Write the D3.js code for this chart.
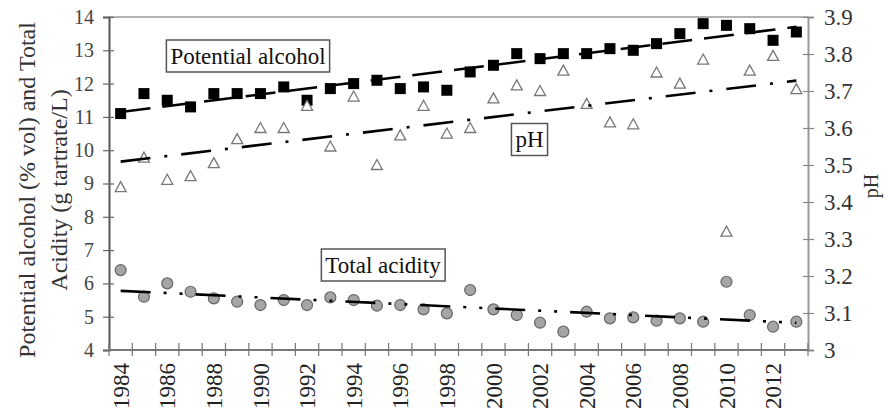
<!doctype html>
<html>
<head>
<meta charset="UTF-8">
<title>Alcohol, acidity and pH</title>
<script src="https://d3js.org/d3.v7.min.js"></script>
<style>
  body { margin: 0; background: #fff; }
  text { font-family: "Liberation Serif", "Times New Roman", serif; }
</style>
</head>
<body>
<script>
var years = d3.range(1984, 2014);
var alcohol = [11.1, 11.7, 11.5, 11.3, 11.7, 11.7, 11.7, 11.9, 11.5, 11.85,
               12.0, 12.1, 11.85, 11.9, 11.8, 12.35, 12.55, 12.9, 12.75, 12.9,
               12.9, 13.05, 13.0, 13.2, 13.5, 13.8, 13.75, 13.65, 13.3, 13.55];
var ph = [3.44, 3.52, 3.46, 3.47, 3.505, 3.57, 3.60, 3.60, 3.66, 3.55,
          3.685, 3.50, 3.58, 3.66, 3.585, 3.60, 3.68, 3.715, 3.70, 3.755,
          3.665, 3.615, 3.61, 3.75, 3.72, 3.785, 3.32, 3.755, 3.795, 3.705];
var acidity = [6.4, 5.6, 6.0, 5.75, 5.55, 5.45, 5.35, 5.5, 5.35, 5.58,
               5.5, 5.33, 5.35, 5.22, 5.1, 5.8, 5.22, 5.05, 4.82, 4.55,
               5.15, 4.95, 4.98, 4.88, 4.95, 4.85, 6.05, 5.05, 4.7, 4.85];
var leftTicks = d3.range(4, 15);
var rightTicks = [3, 3.1, 3.2, 3.3, 3.4, 3.5, 3.6, 3.7, 3.8, 3.9];
var yearLabels = years.filter(function(y){ return y % 2 == 0; });

var W = 888, H = 413;
var pLeft = 109, pRight = 808, pTop = 17, pBottom = 350;

var svg = d3.select("body").append("svg").attr("width", W).attr("height", H);

var x = d3.scaleBand().domain(years).range([pLeft, pRight]);
var yL = d3.scaleLinear().domain([4, 14]).range([pBottom, pTop]);
var yR = d3.scaleLinear().domain([3, 3.9]).range([pBottom, pTop]);
function cx(d, i){ return x(years[i]) + x.bandwidth() / 2; }

// frame
svg.append("line").attr("x1", pLeft).attr("x2", pRight).attr("y1", pTop).attr("y2", pTop)
   .attr("stroke", "#999").attr("stroke-width", 1.5);

// left axis
var gl = svg.append("g").attr("transform", "translate(" + pLeft + ",0)")
   .call(d3.axisLeft(yL).tickValues(leftTicks).tickSize(6).tickPadding(9));
gl.selectAll("line").attr("x1", 5).attr("stroke", "#666").attr("stroke-width", 1.2);
gl.select(".domain").attr("stroke", "#555").attr("stroke-width", 2);
gl.selectAll("text").attr("font-family", "Liberation Sans, Arial, sans-serif")
   .attr("font-size", 20).attr("fill", "#444");

// right axis
var gr = svg.append("g").attr("transform", "translate(" + pRight + ",0)")
   .call(d3.axisRight(yR).tickValues(rightTicks).tickSize(6).tickPadding(10)
   .tickFormat(function(d){ return String(+d.toFixed(1)); }));
gr.selectAll("line").attr("x1", -5).attr("stroke", "#888").attr("stroke-width", 1.2);
gr.select(".domain").attr("stroke", "#999").attr("stroke-width", 2);
gr.selectAll("text").attr("font-family", "Liberation Serif, Times New Roman, serif")
   .attr("font-size", 23).attr("fill", "#333");

// bottom axis: ticks on band edges, labels on band centres
svg.append("line").attr("x1", pLeft).attr("x2", pRight).attr("y1", pBottom).attr("y2", pBottom)
   .attr("stroke", "#777").attr("stroke-width", 2);
svg.append("g").selectAll("line").data(years.concat([2014])).enter().append("line")
   .attr("x1", function(d){ return d == 2014 ? pRight : x(d); })
   .attr("x2", function(d){ return d == 2014 ? pRight : x(d); })
   .attr("y1", pBottom - 7).attr("y2", pBottom + 6)
   .attr("stroke", "#777").attr("stroke-width", 1.2);
svg.append("g").selectAll("text").data(yearLabels).enter().append("text")
   .attr("transform", function(d){
       return "translate(" + (x(d) + x.bandwidth() / 2) + "," + (pBottom + 13) + ") rotate(-90)";
   })
   .attr("text-anchor", "end").attr("dy", "0.35em")
   .attr("font-size", 23).attr("fill", "#222")
   .text(function(d){ return d; });

// axis titles
var yt = svg.append("text").attr("transform", "translate(27,190) rotate(-90)")
   .attr("text-anchor", "middle").attr("font-size", 24).attr("fill", "#333");
yt.append("tspan").attr("x", 0).attr("dy", "0.35em").text("Potential alcohol (% vol) and Total");
yt.append("tspan").attr("x", 0).attr("dy", 32).text("Acidity (g tartrate/L)");
svg.append("text").attr("transform", "translate(871,186) rotate(-90)")
   .attr("text-anchor", "middle").attr("dy", "0.35em")
   .attr("font-size", 20).attr("fill", "#333").text("pH");

// trend lines (least squares on year index)
function fit(vals){
    var n = vals.length, mx = (n - 1) / 2, my = d3.mean(vals), sxy = 0, sxx = 0;
    vals.forEach(function(v, i){ sxy += (i - mx) * (v - my); sxx += (i - mx) * (i - mx); });
    var b = sxy / sxx;
    return [my - b * mx, my + b * (n - 1 - mx)];
}
function trend(vals, scale, dash){
    var f = fit(vals);
    svg.append("line")
       .attr("x1", cx(null, 0)).attr("x2", cx(null, vals.length - 1))
       .attr("y1", scale(f[0])).attr("y2", scale(f[1]))
       .attr("stroke", "#000").attr("stroke-width", 2.6)
       .attr("stroke-dasharray", dash);
}

// markers
svg.append("g").selectAll("rect").data(alcohol).enter().append("rect")
   .attr("x", function(d, i){ return cx(d, i) - 5.5; })
   .attr("y", function(d){ return yL(d) - 5.5; })
   .attr("width", 11).attr("height", 11).attr("fill", "#000");

svg.append("g").selectAll("path").data(ph).enter().append("path")
   .attr("d", function(d, i){
       var px = cx(d, i), py = yR(d);
       return "M" + (px - 5.5) + "," + (py + 4.5) + "L" + px + "," + (py - 5.5) +
              "L" + (px + 5.5) + "," + (py + 4.5) + "Z";
   })
   .attr("fill", "#fff").attr("stroke", "#777").attr("stroke-width", 1.3);

svg.append("g").selectAll("circle").data(acidity).enter().append("circle")
   .attr("cx", cx).attr("cy", function(d){ return yL(d); })
   .attr("r", 5.5).attr("fill", "#a5a5a5").attr("stroke", "#666").attr("stroke-width", 1.2);

trend(alcohol, yL, "30,12");
trend(ph, yR, "30,14,3,14");
trend(acidity, yL, "30,13,3,13,3,13");

// boxed labels
var boxes = [
    {text: "Potential alcohol", x: 248, y: 56},
    {text: "pH", x: 529.5, y: 139.5},
    {text: "Total acidity", x: 383, y: 265}
];
boxes.forEach(function(b){
    var g = svg.append("g");
    var t = g.append("text").attr("x", b.x).attr("y", b.y).attr("dy", "0.33em")
       .attr("text-anchor", "middle").attr("font-size", 23).attr("fill", "#111").text(b.text);
    var bb = t.node().getBBox();
    g.insert("rect", "text").attr("x", bb.x - 4).attr("y", b.y - 16)
       .attr("width", bb.width + 8).attr("height", 32)
       .attr("fill", "#fff").attr("stroke", "#555").attr("stroke-width", 1.5);
});
</script>
</body>
</html>
